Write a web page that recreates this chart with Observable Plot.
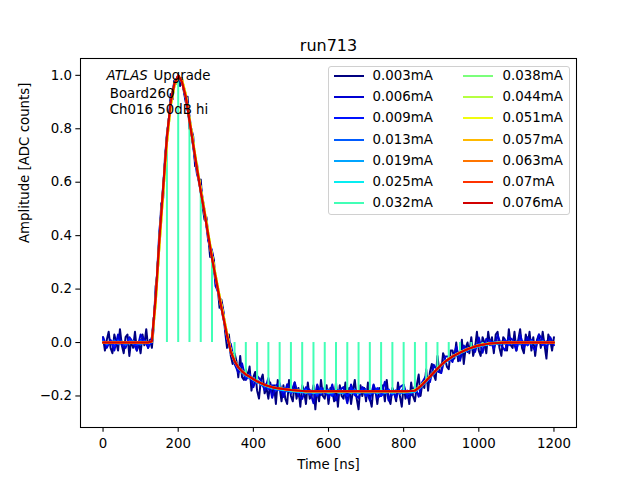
<!DOCTYPE html>
<html><head><meta charset="utf-8">
<script src="https://cdn.jsdelivr.net/npm/d3@7"></script>
<script src="https://cdn.jsdelivr.net/npm/@observablehq/plot@0.6"></script>
<style>
html,body{margin:0;padding:0;background:#fff;}
#wrap{position:relative;width:640px;height:480px;font-family:"DejaVu Sans",sans-serif;}
#legend{position:absolute;left:327.5px;top:65.5px;width:242px;height:149.5px;border:1px solid #d0d0d0;border-radius:3px;background:rgba(255,255,255,0.8);box-sizing:border-box;}
.item{position:absolute;height:16px;font-size:13.33px;line-height:16px;color:#000;white-space:nowrap;}
.sw{position:absolute;left:0;top:7px;width:30px;height:2px;}
.lab{position:absolute;left:39px;top:0;}
</style></head><body>
<div id="wrap"><div id="chart"></div><div id="legend"></div></div>
<script>
const labels = ["0.003mA","0.006mA","0.009mA","0.013mA","0.019mA","0.025mA","0.032mA","0.038mA","0.044mA","0.051mA","0.057mA","0.063mA","0.07mA","0.076mA"];
const colors = ["#000080","#0000d2","#0012ff","#005bff","#00a4ff","#06edf1","#41ffb6","#7bff7b","#b6ff41","#f1fc0e","#ffb900","#ff7500","#ff3200","#d20000"];
const xTicks = [0, 200, 400, 600, 800, 1000, 1200];
const yTicks = [-0.2, 0.0, 0.2, 0.4, 0.6, 0.8, 1.0];

// sample spacing in ns
const step5 = 5, step10 = 10;

// 0.003 mA (5 ns samples)
const amp003 = [
0.02,-0.03,0.01,0.04,-0.02,-0.04,0.03,0.00,-0.03,0.05,-0.01,-0.04,0.02,0.03,-0.05,0.01,-0.02,0.04,-0.03,0.00,
-0.04,0.03,-0.01,0.05,-0.02,0.01,-0.02,0.06,0.21,0.25,0.38,0.52,0.54,0.70,0.77,0.82,0.93,0.91,0.98,0.97,
1.00,0.96,0.99,0.94,0.90,0.92,0.80,0.80,0.77,0.66,0.67,0.60,0.61,0.51,0.46,0.47,0.40,0.32,0.34,0.31,
0.21,0.21,0.13,0.16,0.12,0.04,-0.02,0.03,-0.05,-0.08,-0.04,-0.07,-0.13,-0.05,-0.13,-0.14,-0.10,-0.13,-0.09,-0.18,
-0.13,-0.11,-0.18,-0.21,-0.14,-0.12,-0.19,-0.17,-0.21,-0.15,-0.19,-0.16,-0.23,-0.14,-0.17,-0.22,-0.16,-0.21,-0.23,-0.14,
-0.20,-0.22,-0.15,-0.21,-0.17,-0.24,-0.16,-0.18,-0.23,-0.15,-0.21,-0.20,-0.16,-0.25,-0.17,-0.22,-0.14,-0.20,-0.21,-0.16,
-0.23,-0.17,-0.18,-0.22,-0.15,-0.24,-0.16,-0.20,-0.21,-0.15,-0.22,-0.17,-0.23,-0.18,-0.14,-0.21,-0.25,-0.16,-0.20,-0.17,
-0.22,-0.15,-0.21,-0.24,-0.16,-0.18,-0.23,-0.17,-0.20,-0.16,-0.22,-0.14,-0.21,-0.23,-0.17,-0.19,-0.22,-0.15,-0.20,-0.24,
-0.16,-0.21,-0.18,-0.23,-0.15,-0.20,-0.22,-0.16,-0.12,-0.20,-0.15,-0.17,-0.10,-0.18,-0.11,-0.08,-0.12,-0.14,-0.05,-0.11,
-0.11,-0.04,-0.06,-0.09,-0.10,-0.03,-0.03,-0.06,0.00,-0.07,-0.06,0.01,-0.08,-0.02,0.00,-0.04,0.02,-0.05,-0.02,0.04,
-0.03,-0.05,0.02,0.00,-0.04,0.04,-0.01,0.02,-0.04,0.03,0.04,-0.02,-0.05,0.02,0.01,-0.03,0.05,-0.01,-0.02,0.04,
-0.03,0.01,0.05,-0.02,-0.04,0.03,-0.01,0.04,-0.03,0.02,-0.05,0.01,0.03,-0.02,0.04,-0.01,-0.06,0.03,0.01,-0.03,
0.02];

// 0.006 mA (10 ns samples)
const amp006 = [
0.02,-0.02,0.01,-0.03,0.03,-0.01,-0.02,0.02,0.00,-0.03,0.03,0.01,-0.02,
0.02,0.16,0.42,0.56,0.78,0.89,0.98,0.99,0.98,0.91,0.85,0.73,0.63,0.585,0.495,0.38,0.345,0.21,0.175,0.115,0.005,-0.005,
-0.08,-0.113,-0.078,-0.14,-0.118,-0.167,-0.125,-0.142,-0.178,-0.133,-0.207,-0.16,-0.152,-0.204,-0.156,-0.188,-0.149,-0.20,-0.211,
-0.167,-0.177,-0.227,-0.157,-0.197,-0.167,-0.207,-0.157,-0.217,-0.177,-0.167,-0.227,-0.157,-0.197,-0.207,-0.167,-0.177,-0.217,-0.157,-0.207,-0.197,-0.147,-0.217,-0.177,-0.207,-0.167,-0.157,-0.207,-0.197,
-0.163,-0.203,-0.148,-0.123,-0.148,-0.083,-0.108,-0.114,-0.052,-0.052,-0.073,-0.015,-0.068,-0.011,-0.035,-0.010,-0.035,0.019,-0.038,0.014,0.006,-0.023,0.028,-0.011,-0.03,0.02,0.01,-0.03,0.03,-0.02,0.02,-0.01,-0.03,0.03,0.01,-0.02,0.02,-0.01];

// 0.009 mA
const amp009 = [
0.01,-0.01,0.005,-0.015,0.01,0.0,-0.01,0.015,-0.005,-0.01,0.01,0.005,-0.01,
0.0,0.175,0.38,0.59,0.765,0.905,0.965,0.995,0.98,0.915,0.835,0.735,0.655,0.56,0.49,0.395,0.32,0.235,0.17,0.09,0.03,-0.04,-0.065,-0.1,-0.105,-0.13,-0.12,-0.145,-0.14,-0.16,-0.155,-0.175,-0.16,-0.18,-0.17,-0.185,-0.17,-0.19,-0.175,-0.19,-0.18,
-0.175,-0.195,-0.18,-0.2,-0.17,-0.19,-0.185,-0.2,-0.175,-0.19,-0.18,-0.2,-0.17,-0.195,-0.185,-0.175,-0.2,-0.18,-0.19,-0.17,-0.2,-0.185,-0.175,-0.195,-0.18,-0.19,-0.17,-0.195,-0.185,
-0.175,-0.175,-0.15,-0.15,-0.125,-0.12,-0.095,-0.09,-0.065,-0.07,-0.05,-0.05,-0.035,-0.035,-0.02,-0.025,-0.01,-0.015,0.0,-0.01,0.005,-0.01,0.005,-0.005,0.01,-0.01,0.005,-0.01,0.01,0.0,-0.01,0.01,-0.005,0.01,-0.01,0.005,-0.005,0.0];

// 0.013 mA
const amp013 = [
0.005,-0.005,0.0,0.008,-0.006,0.004,-0.008,0.003,0.006,-0.004,-0.007,0.005,0.0,
0.008,0.165,0.395,0.575,0.775,0.895,0.975,0.995,0.972,0.925,0.826,0.745,0.646,0.57,0.48,0.405,0.31,0.245,0.16,0.1,0.02,-0.03,-0.076,-0.088,-0.115,-0.115,-0.135,-0.132,-0.152,-0.148,-0.165,-0.158,-0.174,-0.165,-0.18,-0.17,-0.183,-0.173,-0.186,-0.176,-0.188,
-0.178,-0.19,-0.18,-0.192,-0.18,-0.186,-0.176,-0.19,-0.182,-0.178,-0.192,-0.18,-0.188,-0.176,-0.19,-0.184,-0.178,-0.192,-0.182,-0.186,-0.176,-0.19,-0.18,-0.186,-0.178,-0.192,-0.182,-0.186,-0.18,
-0.186,-0.168,-0.162,-0.138,-0.133,-0.108,-0.103,-0.08,-0.077,-0.058,-0.057,-0.041,-0.042,-0.027,-0.03,-0.016,-0.02,-0.006,-0.012,-0.002,-0.008,0.003,-0.006,0.004,-0.005,0.006,-0.004,0.005,-0.007,0.004,-0.003,0.006,-0.006,0.003,0.005,-0.005,0.004,-0.002];

// 0.019 mA
const amp019 = [
0.003,-0.004,0.002,-0.003,0.004,-0.002,0.0,-0.004,0.003,-0.002,0.004,-0.003,0.001,
0.004,0.172,0.388,0.583,0.768,0.902,0.968,0.998,0.976,0.918,0.832,0.738,0.652,0.563,0.487,0.398,0.317,0.238,0.167,0.093,0.027,-0.037,-0.07,-0.096,-0.108,-0.124,-0.13,-0.14,-0.147,-0.156,-0.16,-0.167,-0.169,-0.175,-0.175,-0.179,-0.179,-0.183,-0.182,-0.185,-0.184,
-0.189,-0.184,-0.19,-0.185,-0.188,-0.183,-0.19,-0.186,-0.184,-0.19,-0.187,-0.183,-0.189,-0.185,-0.19,-0.184,-0.188,-0.186,-0.183,-0.19,-0.185,-0.188,-0.184,-0.19,-0.186,-0.183,-0.189,-0.185,-0.187,
-0.183,-0.174,-0.159,-0.147,-0.13,-0.117,-0.1,-0.088,-0.074,-0.066,-0.055,-0.049,-0.04,-0.035,-0.027,-0.024,-0.017,-0.015,-0.01,-0.009,-0.005,-0.006,-0.001,-0.004,0.002,-0.003,0.003,-0.002,0.003,-0.003,0.002,-0.004,0.003,-0.002,0.004,-0.003,0.002,-0.002];

// 0.025 mA
const amp025 = [
-0.002,0.002,-0.003,0.001,-0.002,0.003,-0.001,0.002,-0.003,0.001,-0.002,0.002,-0.001,
0.003,0.168,0.392,0.578,0.772,0.898,0.972,0.998,0.974,0.922,0.828,0.742,0.648,0.567,0.483,0.402,0.313,0.242,0.163,0.097,0.023,-0.036,-0.071,-0.094,-0.109,-0.122,-0.129,-0.139,-0.146,-0.154,-0.159,-0.165,-0.169,-0.172,-0.174,-0.177,-0.178,-0.181,-0.181,-0.183,-0.183,
-0.185,-0.183,-0.186,-0.184,-0.185,-0.183,-0.186,-0.185,-0.184,-0.186,-0.183,-0.185,-0.186,-0.184,-0.183,-0.186,-0.185,-0.184,-0.186,-0.183,-0.185,-0.184,-0.186,-0.185,-0.183,-0.186,-0.184,-0.185,-0.184,
-0.182,-0.172,-0.158,-0.145,-0.129,-0.115,-0.099,-0.086,-0.073,-0.064,-0.054,-0.047,-0.039,-0.033,-0.026,-0.022,-0.016,-0.013,-0.009,-0.007,-0.004,-0.005,-0.002,-0.003,0.001,-0.002,0.002,-0.001,0.002,-0.002,0.001,-0.002,0.002,-0.001,0.002,-0.002,0.001,-0.001];

// 0.032 mA: isolated samples (ns, amplitude)
const spikeTimes = [170,200,230,260,290,350,380,410,440,470,500,530,560,590,620,650,680,710,740,770,800,830,860,890,920,950,980,1010,1040,1070,1100,1130,1160,1190];
const spikeValues = [0.77,1.0,0.83,0.565,0.315,-0.07,-0.12,-0.145,-0.163,-0.172,-0.178,-0.181,-0.182,-0.182,-0.182,-0.182,-0.182,-0.182,-0.182,-0.182,-0.182,-0.18,-0.143,-0.098,-0.062,-0.038,-0.02,-0.008,-0.003,0,0,0,0,0];

// 0.038 - 0.057 mA
const pulseA = [
0,0,0,0,0,0,0,0,0,0,0,0,0,
0.004,0.145,0.36,0.555,0.745,0.885,0.96,0.995,0.985,0.93,0.84,0.75,0.66,0.575,0.495,0.41,0.325,0.25,0.175,0.105,0.035,-0.03,-0.068,-0.092,-0.107,-0.119,-0.128,-0.137,-0.145,-0.152,-0.158,-0.163,-0.167,-0.170,-0.172,-0.174,-0.176,-0.178,-0.179,-0.180,-0.181,
-0.182,-0.182,-0.182,-0.182,-0.182,-0.182,-0.182,-0.182,-0.182,-0.182,-0.182,-0.182,-0.182,-0.182,-0.182,-0.182,-0.182,-0.182,-0.182,-0.182,-0.182,-0.182,-0.182,-0.182,-0.182,-0.182,-0.182,-0.182,-0.181,
-0.179,-0.168,-0.155,-0.141,-0.126,-0.111,-0.097,-0.083,-0.071,-0.061,-0.052,-0.044,-0.037,-0.030,-0.024,-0.019,-0.014,-0.010,-0.007,-0.005,-0.003,-0.002,-0.001,0,0,0,0,0,0,0,0,0,0,0,0,0,0,0];

// 0.063 - 0.076 mA
const pulseB = [
0,0,0,0,0,0,0,0,0,0,0,0,0,
0.005,0.17,0.39,0.58,0.77,0.90,0.97,1.00,0.975,0.92,0.83,0.74,0.65,0.565,0.485,0.40,0.315,0.24,0.165,0.095,0.025,-0.035,-0.07,-0.093,-0.108,-0.12,-0.128,-0.137,-0.145,-0.152,-0.158,-0.163,-0.167,-0.170,-0.172,-0.174,-0.176,-0.178,-0.179,-0.180,-0.181,
-0.182,-0.182,-0.182,-0.182,-0.182,-0.182,-0.182,-0.182,-0.182,-0.182,-0.182,-0.182,-0.182,-0.182,-0.182,-0.182,-0.182,-0.182,-0.182,-0.182,-0.182,-0.182,-0.182,-0.182,-0.182,-0.182,-0.182,-0.182,-0.181,
-0.180,-0.170,-0.157,-0.143,-0.128,-0.113,-0.098,-0.084,-0.072,-0.062,-0.053,-0.045,-0.038,-0.031,-0.025,-0.020,-0.015,-0.011,-0.008,-0.006,-0.004,-0.003,-0.002,-0.001,0,0,0,0,0,0,0,0,0,0,0,0,0,0];

const seriesValues = [amp003, amp006, amp009, amp013, amp019, amp025, null, pulseA, pulseA, pulseA, pulseA, pulseB, pulseB, pulseB];
const seriesSteps = [step5, step10, step10, step10, step10, step10, null, step10, step10, step10, step10, step10, step10, step10];

const marks = [];
seriesValues.forEach((vals, k) => {
  if (vals === null) {
    const rows = spikeTimes.map((t, i) => ({t, v: spikeValues[i]}));
    marks.push(Plot.ruleX(rows, {x: "t", y1: 0, y2: "v", stroke: colors[k], strokeWidth: 2}));
  } else {
    const rows = vals.map((v, i) => ({t: i * seriesSteps[k], v}));
    marks.push(Plot.line(rows, {x: "t", y: "v", stroke: colors[k], strokeWidth: 2, strokeLinejoin: "round"}));
  }
});

const fs = 13.33;
marks.push(
  Plot.axisX({ticks: xTicks, tickSize: 4.67, tickPadding: 6.8, tickFormat: d => String(d), label: null, strokeWidth: 1.07, fontSize: fs}),
  Plot.axisY({ticks: yTicks, tickSize: 4.67, tickPadding: 3.8, tickFormat: d => (d < 0 ? "\u2212" : "") + Math.abs(d).toFixed(1), label: null, strokeWidth: 1.07, fontSize: fs}),
  Plot.frame({stroke: "#000", strokeWidth: 1.07}),
  Plot.text(["run713"], {text: d => d, frameAnchor: "top", dy: -8, lineAnchor: "bottom", fontSize: 16}),
  Plot.text(["Time [ns]"], {text: d => d, frameAnchor: "bottom", dy: 41, lineAnchor: "bottom", fontSize: fs}),
  Plot.text(["Amplitude [ADC counts]"], {text: d => d, frameAnchor: "left", dx: -52, rotate: -90, lineAnchor: "bottom", fontSize: fs}),
  Plot.text(["ATLAS"], {text: d => d, frameAnchor: "top-left", dx: 26, dy: 21.5, textAnchor: "start", lineAnchor: "bottom", fontStyle: "italic", fontSize: fs}),
  Plot.text(["Upgrade"], {text: d => d, frameAnchor: "top-left", dx: 73, dy: 21.5, textAnchor: "start", lineAnchor: "bottom", fontSize: fs}),
  Plot.text(["Board260"], {text: d => d, frameAnchor: "top-left", dx: 29.3, dy: 39, textAnchor: "start", lineAnchor: "bottom", fontSize: fs}),
  Plot.text(["Ch016 50dB hi"], {text: d => d, frameAnchor: "top-left", dx: 29.3, dy: 55.5, textAnchor: "start", lineAnchor: "bottom", fontSize: fs})
);

const chart = Plot.plot({
  width: 640, height: 480,
  marginLeft: 80, marginRight: 64, marginTop: 58, marginBottom: 53,
  style: {fontFamily: '"DejaVu Sans", sans-serif', fontSize: "13.33px", color: "#000", background: "#fff"},
  x: {domain: [-60, 1260]},
  y: {domain: [-0.318, 1.063]},
  marks
});
document.getElementById("chart").appendChild(chart);

const legend = document.getElementById("legend");
labels.forEach((lab, k) => {
  const col = k < 7 ? 0 : 1, row = k % 7;
  const item = document.createElement("div");
  item.className = "item";
  item.style.left = (col === 0 ? 5 : 134) + "px";
  item.style.top = (1.7 + row * 21.1) + "px";
  const sw = document.createElement("div");
  sw.className = "sw"; sw.style.background = colors[k];
  const tx = document.createElement("div");
  tx.className = "lab"; tx.style.left = (col === 0 ? 39 : 40) + "px"; tx.textContent = lab;
  item.appendChild(sw); item.appendChild(tx);
  legend.appendChild(item);
});
</script></body></html>
